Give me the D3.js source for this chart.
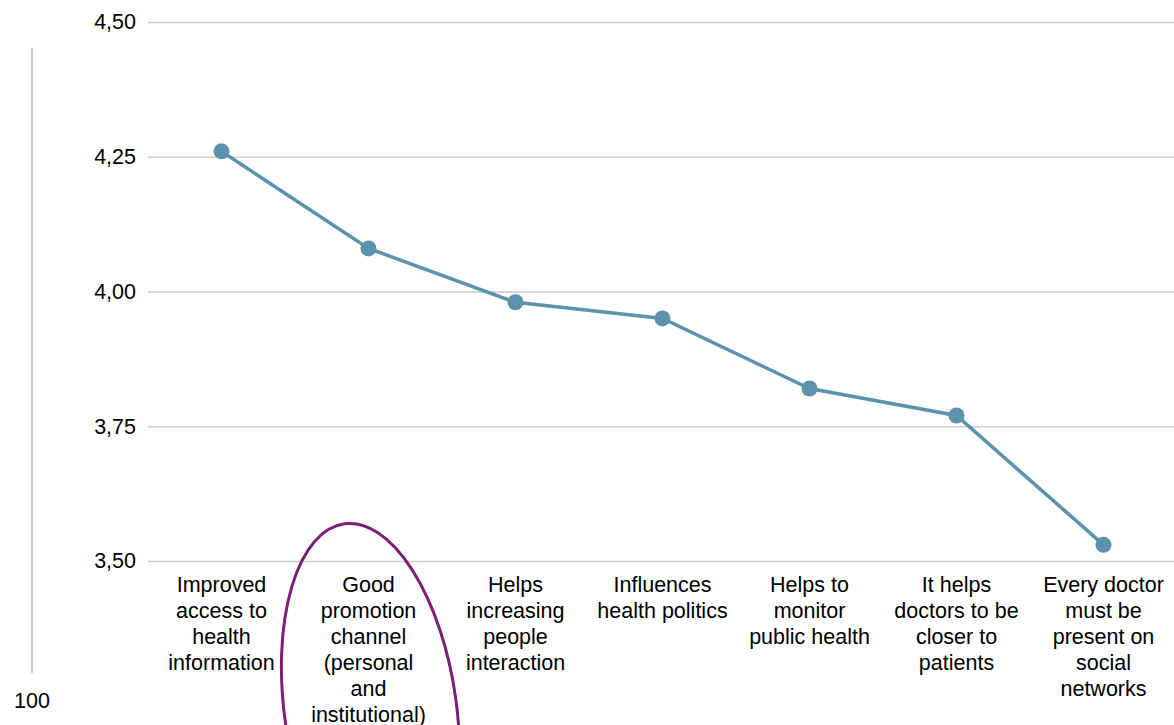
<!DOCTYPE html>
<html>
<head>
<meta charset="utf-8">
<script src="https://cdn.jsdelivr.net/npm/d3@7"></script>
<style>
  body { margin: 0; background: #fff; }
  text { font-family: "Liberation Sans", Arial, sans-serif; fill: #000; }
</style>
</head>
<body>
<div id="chart"></div>
<script>
// categories, one entry per line of the wrapped label
const categories = [
  ['Improved', 'access to', 'health', 'information'],
  ['Good', 'promotion', 'channel', '(personal', 'and', 'institutional)'],
  ['Helps', 'increasing', 'people', 'interaction'],
  ['Influences', 'health politics'],
  ['Helps to', 'monitor', 'public health'],
  ['It helps', 'doctors to be', 'closer to', 'patients'],
  ['Every doctor', 'must be', 'present on', 'social', 'networks']
];
const values = [4.26, 4.08, 3.98, 3.95, 3.82, 3.77, 3.53];
const yTicks = [3.50, 3.75, 4.00, 4.25, 4.50];

const W = 1174, H = 725;
const margin = { top: 22, left: 148, right: -3, bottom: 164 };
const fontSize = 21.5;

const svg = d3.select('#chart').append('svg')
    .attr('width', W)
    .attr('height', H);

const x = d3.scaleBand()
    .domain(d3.range(categories.length))
    .range([margin.left, W - margin.right]);

const y = d3.scaleLinear()
    .domain([3.5, 4.5])
    .range([H - margin.bottom, margin.top]);

const fmt = d => d3.format('.2f')(d).replace('.', ',');

// gridlines + y labels
const yAxis = svg.append('g')
    .attr('transform', 'translate(' + margin.left + ',0)')
    .call(d3.axisLeft(y).tickValues(yTicks).tickFormat(fmt)
      .tickSize(-(W - margin.left)).tickPadding(12));
yAxis.select('.domain').remove();
yAxis.selectAll('.tick line').attr('stroke', '#cccccc').attr('stroke-width', 1.5);
yAxis.selectAll('.tick text')
    .attr('font-size', fontSize)
    .attr('font-family', '"Liberation Sans", Arial, sans-serif');

// stray left rule and "100" label
svg.append('line')
    .attr('x1', 32).attr('x2', 32)
    .attr('y1', 48).attr('y2', 673)
    .attr('stroke', '#cccccc').attr('stroke-width', 2);
svg.append('text')
    .attr('x', 32).attr('y', 708)
    .attr('text-anchor', 'middle')
    .attr('font-size', fontSize)
    .text('100');

// category labels
const labels = svg.append('g')
  .selectAll('text')
  .data(categories)
  .enter().append('text')
    .attr('text-anchor', 'middle')
    .attr('font-size', fontSize)
    .attr('transform', (d, i) => 'translate(' + (x(i) + x.bandwidth() / 2) + ',' + (y(3.5) + 31) + ')');

labels.selectAll('tspan')
  .data(d => d)
  .enter().append('tspan')
    .attr('x', 0)
    .attr('dy', (d, i) => i === 0 ? 0 : 26)
    .text(d => d);

// line + points
const cx = (d, i) => x(i) + x.bandwidth() / 2;
const line = d3.line().x(cx).y(d => y(d));

svg.append('path')
    .datum(values)
    .attr('fill', 'none')
    .attr('stroke', '#5b92ae')
    .attr('stroke-width', 3.5)
    .attr('d', line);

svg.append('g')
  .selectAll('circle')
  .data(values)
  .enter().append('circle')
    .attr('cx', cx)
    .attr('cy', d => y(d))
    .attr('r', 8)
    .attr('fill', '#5b92ae');

// hand-drawn highlight round the second category
svg.append('ellipse')
    .attr('transform', 'translate(' + (x(1) + x.bandwidth() / 2 + 2) + ',710) rotate(-8)')
    .attr('rx', 86)
    .attr('ry', 188)
    .attr('fill', 'none')
    .attr('stroke', '#7b1f78')
    .attr('stroke-width', 3);
</script>
</body>
</html>
